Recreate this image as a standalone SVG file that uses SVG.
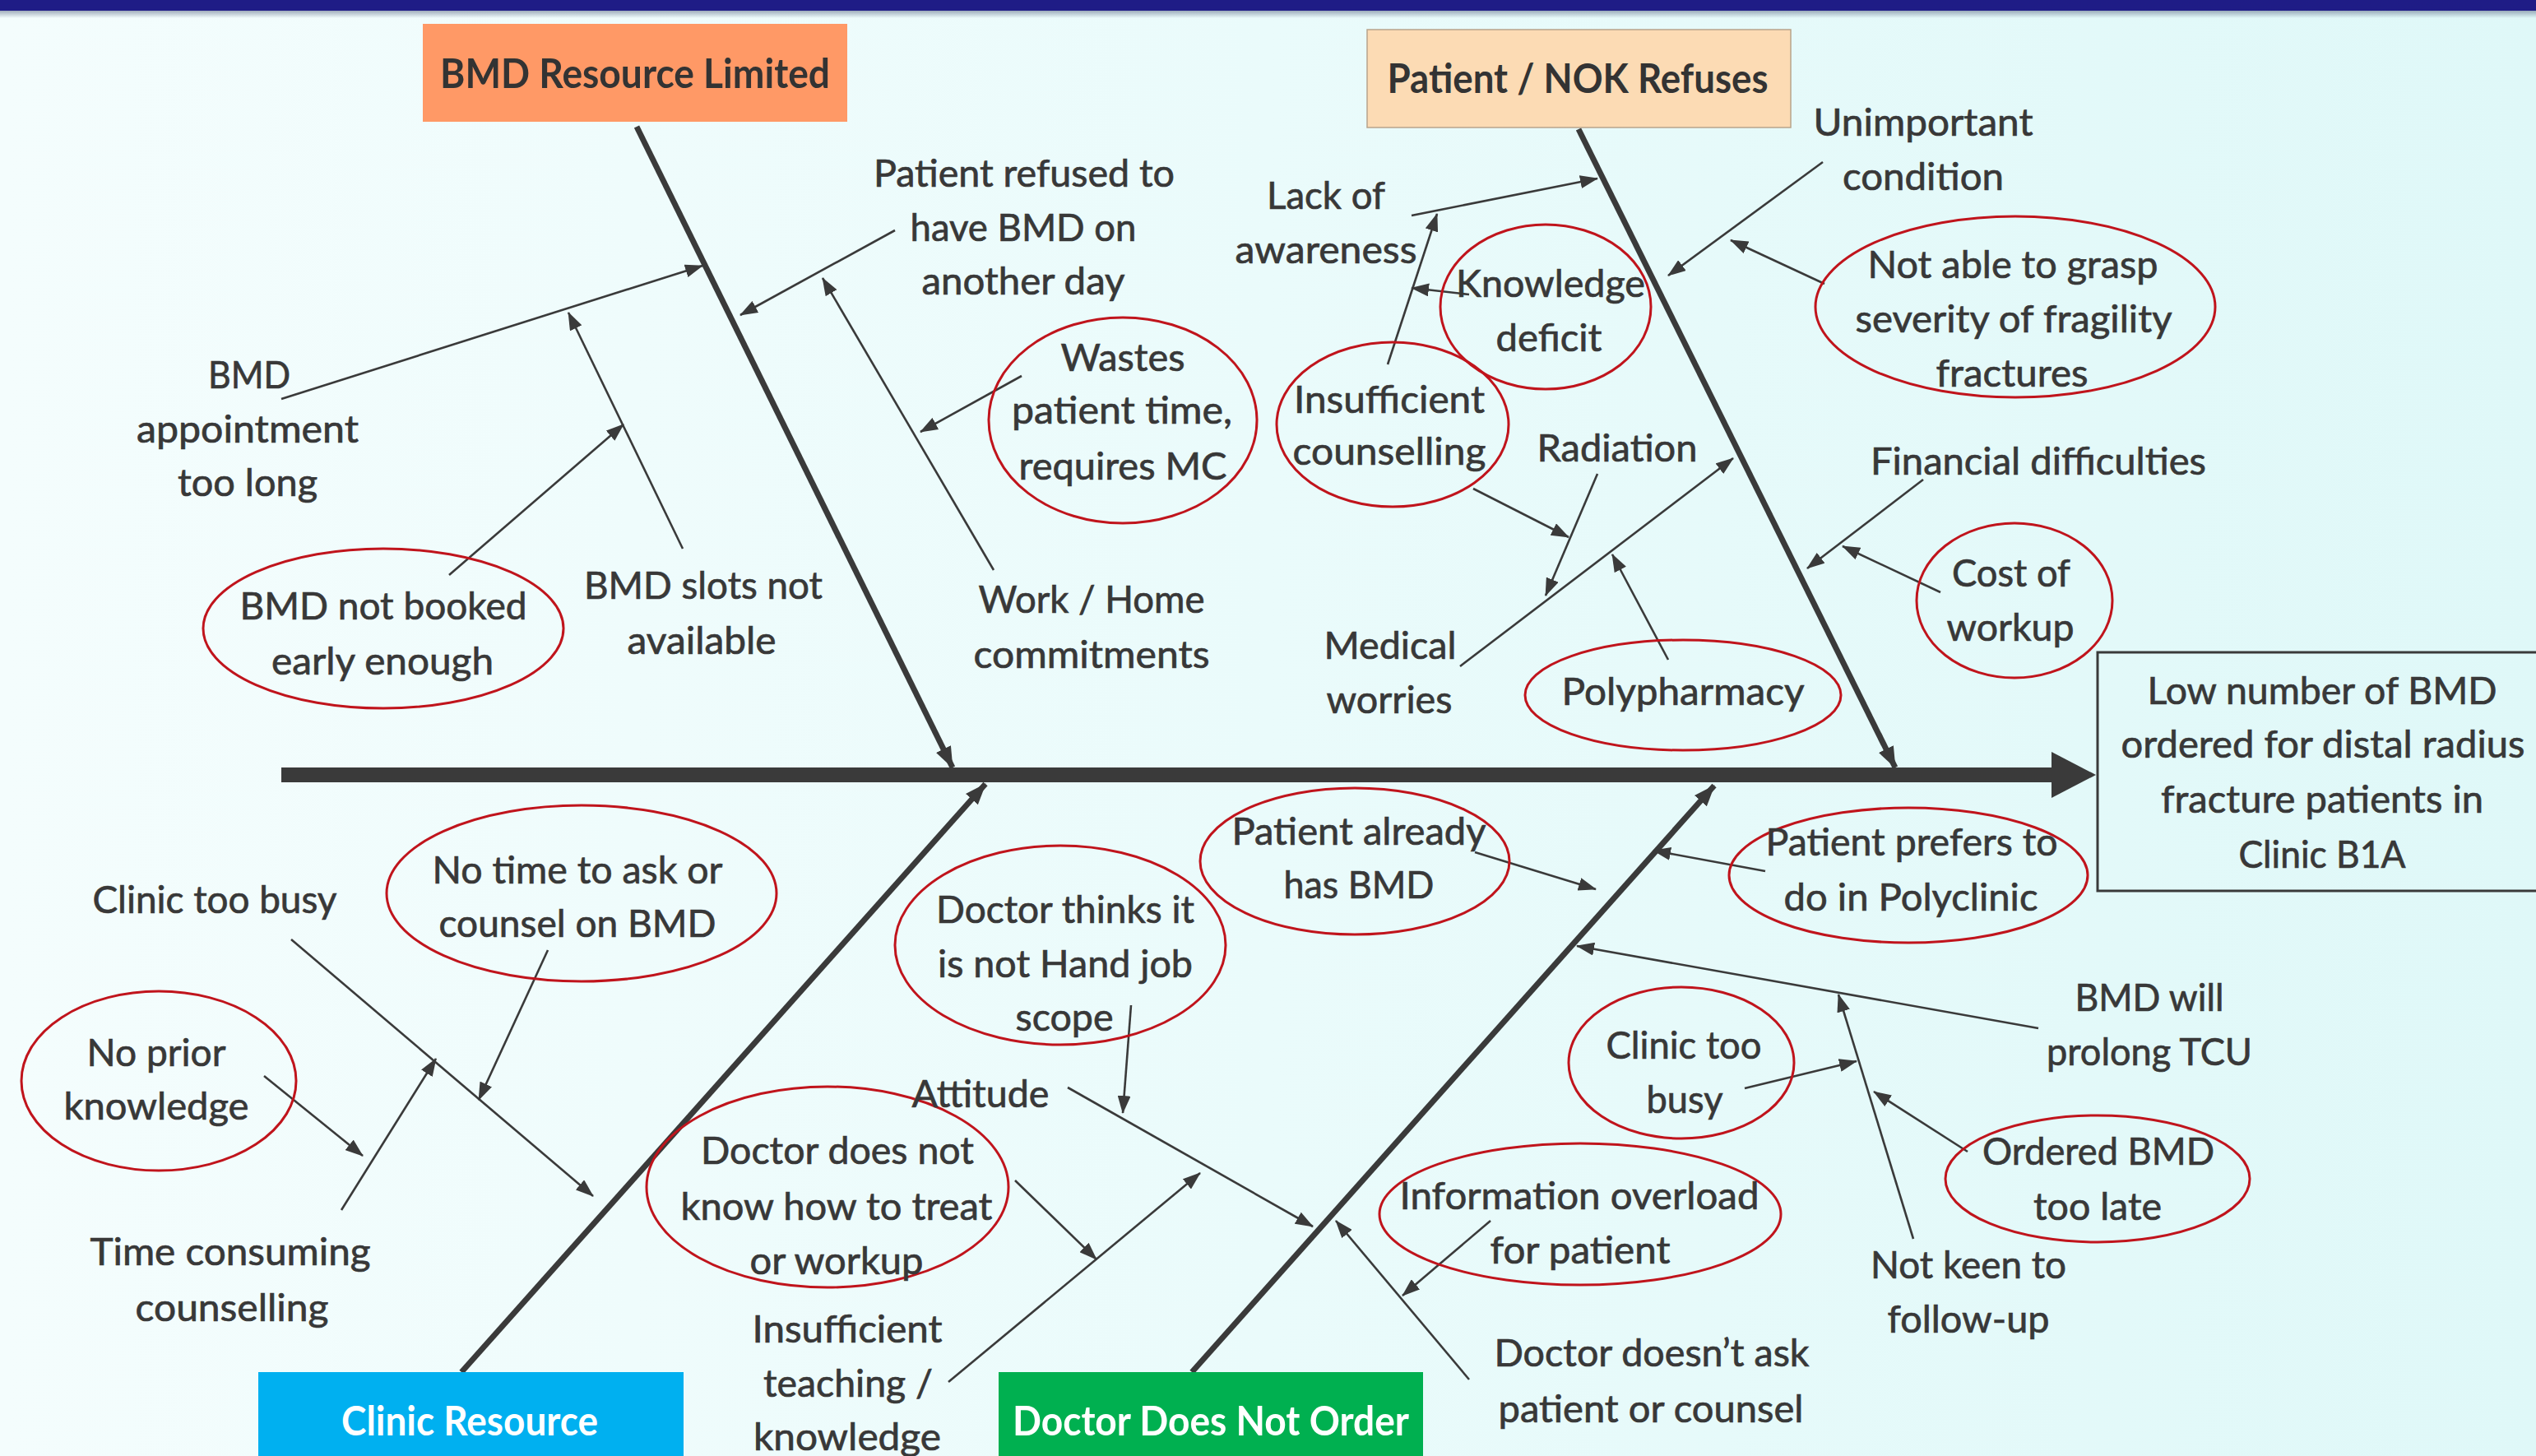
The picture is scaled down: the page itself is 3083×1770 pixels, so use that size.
<svg xmlns="http://www.w3.org/2000/svg" width="3083" height="1770" viewBox="0 0 3083 1770">
<defs>
<linearGradient id="bg" x1="0" y1="0" x2="1" y2="0">
<stop offset="0" stop-color="#F4FDFD"/>
<stop offset="0.5" stop-color="#EAFBFB"/>
<stop offset="1" stop-color="#DFF8F8"/>
</linearGradient>
<linearGradient id="shadow" x1="0" y1="0" x2="0" y2="1">
<stop offset="0" stop-color="#6A7890" stop-opacity="0.6"/>
<stop offset="1" stop-color="#6A7890" stop-opacity="0"/>
</linearGradient>
<marker id="ah" markerUnits="userSpaceOnUse" markerWidth="22" markerHeight="16" viewBox="0 0 22 16" refX="21" refY="8" orient="auto">
<path d="M0,0 L22,8 L0,16 z" fill="#3a3a3a"/>
</marker>
<marker id="ahb" markerUnits="userSpaceOnUse" markerWidth="26" markerHeight="20" viewBox="0 0 26 20" refX="25" refY="10" orient="auto">
<path d="M0,0 L26,10 L0,20 z" fill="#3a3a3a"/>
</marker>
<style>
.t{font-family:Lato,"Open Sans","Liberation Sans",sans-serif;font-size:47px;fill:#383838;stroke:#383838;stroke-width:0.7;text-anchor:middle}
.b{font-family:Lato,"Open Sans","Liberation Sans",sans-serif;font-size:50px;font-weight:bold;fill:#333333;text-anchor:middle}
.w{fill:#ffffff}
.el{fill:none;stroke:#C0141C;stroke-width:3}
.ar{stroke:#3a3a3a;stroke-width:2.6;fill:none;marker-end:url(#ah)}
.bone{stroke:#3a3a3a;stroke-width:7;fill:none;marker-end:url(#ahb)}
</style>
</defs>
<rect x="0" y="0" width="3083" height="1770" fill="url(#bg)"/>
<rect x="0" y="13" width="3083" height="9" fill="url(#shadow)"/>
<rect x="0" y="0" width="3083" height="13" fill="#1F1C86"/>

<g id="connectors">
<line x1="342" y1="942" x2="2496" y2="942" stroke="#3a3a3a" stroke-width="18"/>
<path d="M2494,914 L2548,942 L2494,970 z" fill="#3a3a3a"/>
<line class="bone" x1="774" y1="154" x2="1158" y2="933"/>
<line class="bone" x1="1919" y1="157" x2="2304" y2="933"/>
<line class="bone" x1="561" y1="1668" x2="1198" y2="953"/>
<line class="bone" x1="1449" y1="1668" x2="2084" y2="955"/>

<line class="ar" x1="342" y1="485" x2="854" y2="323"/>
<line class="ar" x1="546" y1="699" x2="758" y2="516"/>
<line class="ar" x1="830" y1="667" x2="691" y2="380"/>
<line class="ar" x1="1088" y1="280" x2="900" y2="383"/>
<line class="ar" x1="1242" y1="457" x2="1119" y2="525"/>
<line class="ar" x1="1208" y1="693" x2="1000" y2="338"/>
<line class="ar" x1="1716" y1="262" x2="1942" y2="217"/>
<line class="ar" x1="1786" y1="358" x2="1716" y2="350"/>
<line class="ar" x1="1687" y1="443" x2="1747" y2="260"/>
<line class="ar" x1="1791" y1="594" x2="1907" y2="653"/>
<line class="ar" x1="1942" y1="576" x2="1879" y2="724"/>
<line class="ar" x1="1775" y1="810" x2="2107" y2="557"/>
<line class="ar" x1="2028" y1="802" x2="1960" y2="674"/>
<line class="ar" x1="2216" y1="197" x2="2028" y2="335"/>
<line class="ar" x1="2218" y1="345" x2="2104" y2="292"/>
<line class="ar" x1="2338" y1="583" x2="2197" y2="691"/>
<line class="ar" x1="2359" y1="720" x2="2240" y2="664"/>

<line class="ar" x1="354" y1="1142" x2="721" y2="1454"/>
<line class="ar" x1="666" y1="1155" x2="582" y2="1337"/>
<line class="ar" x1="321" y1="1308" x2="441" y2="1405"/>
<line class="ar" x1="415" y1="1471" x2="530" y2="1287"/>
<line class="ar" x1="1234" y1="1435" x2="1333" y2="1531"/>
<line class="ar" x1="1153" y1="1680" x2="1459" y2="1426"/>
<line class="ar" x1="1298" y1="1322" x2="1596" y2="1491"/>
<line class="ar" x1="1375" y1="1222" x2="1365" y2="1353"/>
<line class="ar" x1="1793" y1="1036" x2="1940" y2="1081"/>
<line class="ar" x1="2146" y1="1059" x2="2010" y2="1034"/>
<line class="ar" x1="2478" y1="1250" x2="1917" y2="1150"/>
<line class="ar" x1="2121" y1="1323" x2="2257" y2="1290"/>
<line class="ar" x1="2326" y1="1506" x2="2235" y2="1209"/>
<line class="ar" x1="2392" y1="1400" x2="2278" y2="1327"/>
<line class="ar" x1="1812" y1="1484" x2="1705" y2="1575"/>
<line class="ar" x1="1786" y1="1677" x2="1624" y2="1484"/>
</g>

<g id="cat-bmd-resource">
<rect x="514" y="29" width="516" height="119" fill="#FF9966"/>
<text class="b" x="772" y="107" textLength="474" lengthAdjust="spacingAndGlyphs">BMD Resource Limited</text>
</g>
<g id="cat-patient-nok">
<rect x="1662" y="36" width="515" height="119" fill="#FCDBB4" stroke="#B8A48C" stroke-width="1.5"/>
<text class="b" x="1918" y="113" textLength="463" lengthAdjust="spacingAndGlyphs">Patient / NOK Refuses</text>
</g>
<g id="cat-clinic-resource">
<rect x="314" y="1668" width="517" height="110" fill="#00B0F0"/>
<text class="b w" x="571" y="1745" textLength="312" lengthAdjust="spacingAndGlyphs">Clinic Resource</text>
</g>
<g id="cat-doctor-order">
<rect x="1214" y="1668" width="516" height="110" fill="#00B050"/>
<text class="b w" x="1472" y="1745" textLength="482" lengthAdjust="spacingAndGlyphs">Doctor Does Not Order</text>
</g>

<g id="effect">
<rect x="2550" y="793" width="560" height="290" fill="none" stroke="#3a3a3a" stroke-width="3"/>
<text class="t" x="2823" y="856" textLength="425" lengthAdjust="spacingAndGlyphs">Low number of BMD</text>
<text class="t" x="2824" y="921" textLength="491" lengthAdjust="spacingAndGlyphs">ordered for distal radius</text>
<text class="t" x="2823" y="988" textLength="392" lengthAdjust="spacingAndGlyphs">fracture patients in</text>
<text class="t" x="2823" y="1055" textLength="203" lengthAdjust="spacingAndGlyphs">Clinic B1A</text>
</g>

<g id="n-bmd-appointment">
<text class="t" x="303" y="472" textLength="100" lengthAdjust="spacingAndGlyphs">BMD</text>
<text class="t" x="301" y="538" textLength="270" lengthAdjust="spacingAndGlyphs">appointment</text>
<text class="t" x="301" y="603" textLength="170" lengthAdjust="spacingAndGlyphs">too long</text>
</g>
<g id="n-bmd-not-booked">
<ellipse class="el" cx="466" cy="764" rx="219" ry="97"/>
<text class="t" x="466" y="753" textLength="349" lengthAdjust="spacingAndGlyphs">BMD not booked</text>
<text class="t" x="465" y="820" textLength="270" lengthAdjust="spacingAndGlyphs">early enough</text>
</g>
<g id="n-bmd-slots">
<text class="t" x="855" y="728" textLength="290" lengthAdjust="spacingAndGlyphs">BMD slots not</text>
<text class="t" x="853" y="795" textLength="181" lengthAdjust="spacingAndGlyphs">available</text>
</g>
<g id="n-patient-refused">
<text class="t" x="1245" y="227" textLength="366" lengthAdjust="spacingAndGlyphs">Patient refused to</text>
<text class="t" x="1244" y="293" textLength="275" lengthAdjust="spacingAndGlyphs">have BMD on</text>
<text class="t" x="1244" y="358" textLength="247" lengthAdjust="spacingAndGlyphs">another day</text>
</g>
<g id="n-wastes">
<ellipse class="el" cx="1365" cy="511" rx="163" ry="125"/>
<text class="t" x="1365" y="451" textLength="151" lengthAdjust="spacingAndGlyphs">Wastes</text>
<text class="t" x="1364" y="515" textLength="268" lengthAdjust="spacingAndGlyphs">patient time,</text>
<text class="t" x="1365" y="583" textLength="253" lengthAdjust="spacingAndGlyphs">requires MC</text>
</g>
<g id="n-work-home">
<text class="t" x="1327" y="745" textLength="275" lengthAdjust="spacingAndGlyphs">Work / Home</text>
<text class="t" x="1327" y="812" textLength="287" lengthAdjust="spacingAndGlyphs">commitments</text>
</g>
<g id="n-lack-awareness">
<text class="t" x="1612" y="254" textLength="144" lengthAdjust="spacingAndGlyphs">Lack of</text>
<text class="t" x="1612" y="320" textLength="221" lengthAdjust="spacingAndGlyphs">awareness</text>
</g>
<g id="n-knowledge-deficit">
<ellipse class="el" cx="1879" cy="373" rx="128" ry="100"/>
<text class="t" x="1885" y="361" textLength="230" lengthAdjust="spacingAndGlyphs">Knowledge</text>
<text class="t" x="1883" y="427" textLength="129" lengthAdjust="spacingAndGlyphs">deficit</text>
</g>
<g id="n-insufficient-counselling">
<ellipse class="el" cx="1693" cy="516" rx="141" ry="100"/>
<text class="t" x="1689" y="502" textLength="232" lengthAdjust="spacingAndGlyphs">Insufficient</text>
<text class="t" x="1689" y="565" textLength="235" lengthAdjust="spacingAndGlyphs">counselling</text>
</g>
<g id="n-radiation">
<text class="t" x="1966" y="561" textLength="195" lengthAdjust="spacingAndGlyphs">Radiation</text>
</g>
<g id="n-medical-worries">
<text class="t" x="1690" y="801" textLength="161" lengthAdjust="spacingAndGlyphs">Medical</text>
<text class="t" x="1689" y="867" textLength="153" lengthAdjust="spacingAndGlyphs">worries</text>
</g>
<g id="n-polypharmacy">
<ellipse class="el" cx="2046" cy="845" rx="192" ry="67"/>
<text class="t" x="2046" y="857" textLength="295" lengthAdjust="spacingAndGlyphs">Polypharmacy</text>
</g>
<g id="n-unimportant">
<text class="t" x="2338" y="165" textLength="267" lengthAdjust="spacingAndGlyphs">Unimportant</text>
<text class="t" x="2338" y="231" textLength="196" lengthAdjust="spacingAndGlyphs">condition</text>
</g>
<g id="n-not-able">
<ellipse class="el" cx="2450" cy="373" rx="243" ry="110"/>
<text class="t" x="2447" y="338" textLength="353" lengthAdjust="spacingAndGlyphs">Not able to grasp</text>
<text class="t" x="2448" y="404" textLength="385" lengthAdjust="spacingAndGlyphs">severity of fragility</text>
<text class="t" x="2446" y="470" textLength="185" lengthAdjust="spacingAndGlyphs">fractures</text>
</g>
<g id="n-financial">
<text class="t" x="2478" y="577" textLength="408" lengthAdjust="spacingAndGlyphs">Financial difficulties</text>
</g>
<g id="n-cost-workup">
<ellipse class="el" cx="2449" cy="730" rx="119" ry="94"/>
<text class="t" x="2445" y="713" textLength="144" lengthAdjust="spacingAndGlyphs">Cost of</text>
<text class="t" x="2444" y="779" textLength="155" lengthAdjust="spacingAndGlyphs">workup</text>
</g>

<g id="n-clinic-too-busy">
<text class="t" x="261" y="1110" textLength="297" lengthAdjust="spacingAndGlyphs">Clinic too busy</text>
</g>
<g id="n-no-time">
<ellipse class="el" cx="707" cy="1086" rx="237" ry="107"/>
<text class="t" x="702" y="1074" textLength="353" lengthAdjust="spacingAndGlyphs">No time to ask or</text>
<text class="t" x="702" y="1139" textLength="337" lengthAdjust="spacingAndGlyphs">counsel on BMD</text>
</g>
<g id="n-no-prior">
<ellipse class="el" cx="193" cy="1314" rx="167" ry="109"/>
<text class="t" x="190" y="1296" textLength="169" lengthAdjust="spacingAndGlyphs">No prior</text>
<text class="t" x="190" y="1361" textLength="225" lengthAdjust="spacingAndGlyphs">knowledge</text>
</g>
<g id="n-time-consuming">
<text class="t" x="280" y="1538" textLength="341" lengthAdjust="spacingAndGlyphs">Time consuming</text>
<text class="t" x="282" y="1606" textLength="235" lengthAdjust="spacingAndGlyphs">counselling</text>
</g>
<g id="n-doctor-does-not-know">
<ellipse class="el" cx="1006" cy="1443" rx="220" ry="122"/>
<text class="t" x="1018" y="1415" textLength="332" lengthAdjust="spacingAndGlyphs">Doctor does not</text>
<text class="t" x="1017" y="1483" textLength="379" lengthAdjust="spacingAndGlyphs">know how to treat</text>
<text class="t" x="1017" y="1549" textLength="211" lengthAdjust="spacingAndGlyphs">or workup</text>
</g>
<g id="n-insufficient-teaching">
<text class="t" x="1030" y="1632" textLength="231" lengthAdjust="spacingAndGlyphs">Insufficient</text>
<text class="t" x="1031" y="1698" textLength="206" lengthAdjust="spacingAndGlyphs">teaching /</text>
<text class="t" x="1030" y="1763" textLength="228" lengthAdjust="spacingAndGlyphs">knowledge</text>
</g>
<g id="n-attitude">
<text class="t" x="1192" y="1346" textLength="167" lengthAdjust="spacingAndGlyphs">Attitude</text>
</g>
<g id="n-doctor-thinks">
<ellipse class="el" cx="1289" cy="1149" rx="201" ry="121"/>
<text class="t" x="1295" y="1122" textLength="314" lengthAdjust="spacingAndGlyphs">Doctor thinks it</text>
<text class="t" x="1295" y="1188" textLength="310" lengthAdjust="spacingAndGlyphs">is not Hand job</text>
<text class="t" x="1294" y="1253" textLength="119" lengthAdjust="spacingAndGlyphs">scope</text>
</g>
<g id="n-patient-already">
<ellipse class="el" cx="1647" cy="1047" rx="188" ry="89"/>
<text class="t" x="1652" y="1027" textLength="309" lengthAdjust="spacingAndGlyphs">Patient already</text>
<text class="t" x="1652" y="1092" textLength="183" lengthAdjust="spacingAndGlyphs">has BMD</text>
</g>
<g id="n-patient-prefers">
<ellipse class="el" cx="2320" cy="1064" rx="218" ry="82"/>
<text class="t" x="2324" y="1040" textLength="355" lengthAdjust="spacingAndGlyphs">Patient prefers to</text>
<text class="t" x="2323" y="1107" textLength="309" lengthAdjust="spacingAndGlyphs">do in Polyclinic</text>
</g>
<g id="n-bmd-will">
<text class="t" x="2613" y="1229" textLength="181" lengthAdjust="spacingAndGlyphs">BMD will</text>
<text class="t" x="2613" y="1295" textLength="250" lengthAdjust="spacingAndGlyphs">prolong TCU</text>
</g>
<g id="n-clinic-too-busy-2">
<ellipse class="el" cx="2044" cy="1292" rx="137" ry="92"/>
<text class="t" x="2047" y="1287" textLength="189" lengthAdjust="spacingAndGlyphs">Clinic too</text>
<text class="t" x="2048" y="1353" textLength="93" lengthAdjust="spacingAndGlyphs">busy</text>
</g>
<g id="n-ordered-late">
<ellipse class="el" cx="2550" cy="1433" rx="185" ry="77"/>
<text class="t" x="2551" y="1416" textLength="282" lengthAdjust="spacingAndGlyphs">Ordered BMD</text>
<text class="t" x="2550" y="1483" textLength="156" lengthAdjust="spacingAndGlyphs">too late</text>
</g>
<g id="n-not-keen">
<text class="t" x="2393" y="1554" textLength="238" lengthAdjust="spacingAndGlyphs">Not keen to</text>
<text class="t" x="2393" y="1620" textLength="197" lengthAdjust="spacingAndGlyphs">follow-up</text>
</g>
<g id="n-information-overload">
<ellipse class="el" cx="1921" cy="1476" rx="244" ry="86"/>
<text class="t" x="1920" y="1470" textLength="437" lengthAdjust="spacingAndGlyphs">Information overload</text>
<text class="t" x="1921" y="1536" textLength="219" lengthAdjust="spacingAndGlyphs">for patient</text>
</g>
<g id="n-doctor-doesnt-ask">
<text class="t" x="2008" y="1661" textLength="383" lengthAdjust="spacingAndGlyphs">Doctor doesn’t ask</text>
<text class="t" x="2007" y="1729" textLength="371" lengthAdjust="spacingAndGlyphs">patient or counsel</text>
</g>
</svg>
